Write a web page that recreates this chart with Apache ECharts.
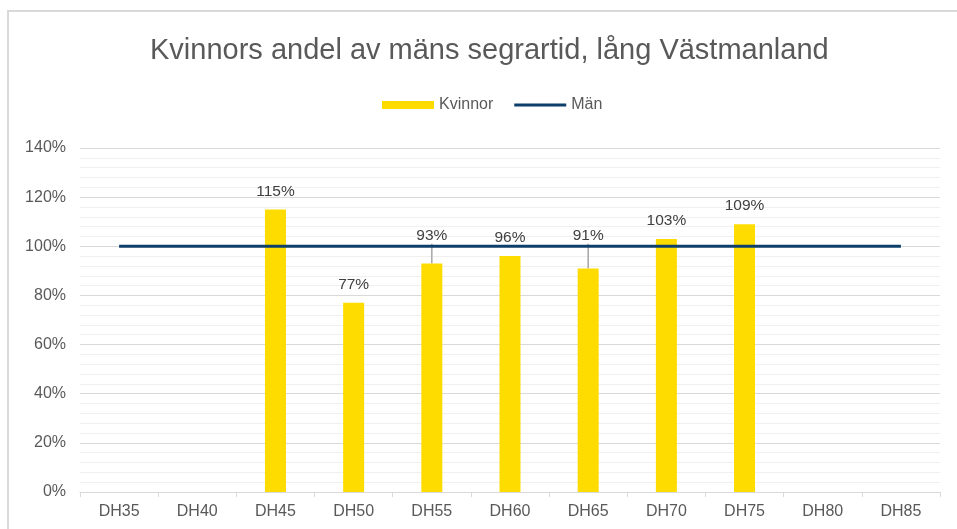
<!DOCTYPE html>
<html>
<head>
<meta charset="utf-8">
<script src="https://cdn.jsdelivr.net/npm/echarts@6/dist/echarts.min.js"></script>
<style>
  html, body { margin: 0; padding: 0; background: #fff; }
  #chart { width: 957px; height: 529px; }
</style>
</head>
<body>
<div id="chart"></div>
<script>
const categories = ['DH35', 'DH40', 'DH45', 'DH50', 'DH55', 'DH60', 'DH65', 'DH70', 'DH75', 'DH80', 'DH85'];
const kvinnor = [null, null, 115, 77, 93, 96, 91, 103, 109, null, null];
const man = [100, 100, 100, 100, 100, 100, 100, 100, 100, 100, 100];
// labels that Excel pushed above the Män line
const moved = [4, 6];

const chart = echarts.init(document.getElementById('chart'));
const font = 'Liberation Sans, Arial, sans-serif';

const barData = kvinnor.map((v, i) => ({
  value: v,
  labelLine: { show: moved.includes(i) }
}));

chart.setOption({
  animation: false,
  textStyle: { fontFamily: font },
  title: {
    text: 'Kvinnors andel av mäns segrartid, lång Västmanland',
    left: 145,
    top: 31,
    textStyle: { fontSize: 29, fontWeight: 'normal', color: '#595959', fontFamily: font }
  },
  legend: {
    top: 92,
    left: 377,
    itemGap: 21,
    itemWidth: 52,
    itemHeight: 8,
    textStyle: { fontSize: 16, color: '#595959', fontFamily: font },
    data: [
      { name: 'Kvinnor', icon: 'rect' },
      { name: 'Män', icon: 'path://M0,0 L52,0 L52,3 L0,3 Z' }
    ]
  },
  graphic: [{
    type: 'rect',
    shape: { x: 8, y: 11, width: 1000, height: 600 },
    style: { fill: 'none', stroke: '#d9d9d9', lineWidth: 2 },
    silent: true
  }],
  grid: { left: 80, right: 17, top: 148, bottom: 37 },
  xAxis: {
    type: 'category',
    data: categories,
    axisLine: { lineStyle: { color: '#d9d9d9' } },
    axisTick: { show: true, length: 5, lineStyle: { color: '#d9d9d9' } },
    axisLabel: { fontSize: 16, color: '#595959', margin: 12, fontFamily: font }
  },
  yAxis: {
    type: 'value',
    min: 0,
    max: 140,
    interval: 20,
    axisLine: { show: false },
    axisTick: { show: false },
    axisLabel: { fontSize: 16, color: '#595959', margin: 14, formatter: '{value}%', fontFamily: font },
    splitLine: { lineStyle: { color: '#d9d9d9', width: 1 } },
    minorTick: { show: false, splitNumber: 5 },
    minorSplitLine: { show: true, lineStyle: { color: '#f0f0f0', width: 1 } }
  },
  series: [
    {
      name: 'Kvinnor',
      type: 'bar',
      data: barData,
      barWidth: 21,
      itemStyle: { color: '#FFDC00' },
      label: {
        show: true,
        position: 'top',
        distance: 10,
        formatter: '{c}%',
        fontSize: 15.5,
        color: '#404040',
        fontFamily: font
      },
      labelLine: { show: false, lineStyle: { color: '#a6a6a6', width: 1.5 } },
      labelLayout: function (params) {
        const v = kvinnor[params.dataIndex];
        if (v != null && moved.includes(params.dataIndex)) {
          const pxPer = params.rect.height / v;
          return { dy: -pxPer * (97 - v) };
        }
        return {};
      },
      z: 2
    },
    {
      name: 'Män',
      type: 'line',
      data: man,
      symbol: 'none',
      lineStyle: { color: '#0E3F6B', width: 3 },
      itemStyle: { color: '#0E3F6B' },
      z: 3
    }
  ]
});
</script>
</body>
</html>
